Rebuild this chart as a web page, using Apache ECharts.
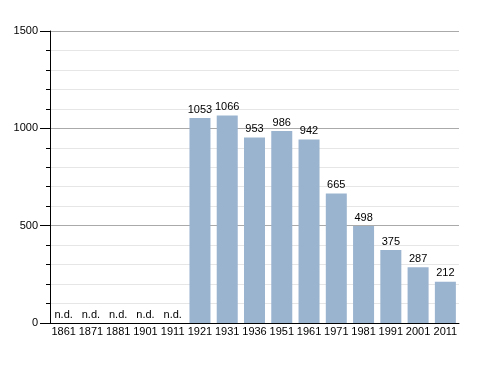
<!DOCTYPE html>
<html><head><meta charset="utf-8">
<script src="https://cdn.jsdelivr.net/npm/echarts@6/dist/echarts.min.js"></script>
<style>html,body{margin:0;padding:0;background:#fff}#c{width:488px;height:373px}</style>
</head><body><div id="c"></div>
<script>
const categories = ['1861','1871','1881','1901','1911','1921','1931','1936','1951','1961','1971','1981','1991','2001','2011'];
const population = [null,null,null,null,null,1053,1066,953,986,942,665,498,375,287,212];
const yTicks = [0,500,1000,1500];

const chart = echarts.init(document.getElementById('c'));
chart.setOption({
  animation:false,
  textStyle:{fontFamily:'Liberation Sans, Arial, sans-serif'},
  grid:{left:50,right:29,top:31,bottom:50},
  xAxis:{type:'category',data:categories,
    axisLine:{lineStyle:{color:'#000',width:1}},
    axisTick:{show:false},
    axisLabel:{color:'#000',fontSize:11,margin:3,interval:0}},
  yAxis:{type:'value',min:yTicks[0],max:yTicks[yTicks.length-1],interval:500,
    axisLine:{show:true,lineStyle:{color:'#000'}},
    axisTick:{show:true,length:10,lineStyle:{color:'#000'}},
    minorTick:{show:true,splitNumber:5,length:4,lineStyle:{color:'#000'}},
    axisLabel:{color:'#000',fontSize:11,margin:12,formatter:v=>String(v)},
    splitLine:{lineStyle:{color:'#aaa'}},
    minorSplitLine:{show:true,lineStyle:{color:'#e6e6e6'}}},
  series:[
    {type:'bar',data:population,barWidth:21,itemStyle:{color:'#9ab3cf'},
     label:{show:true,position:'top',color:'#000',fontSize:11,distance:3}},
    {type:'bar',barGap:'-100%',barWidth:21,
     data:population.map(v=>v==null?0:null),
     itemStyle:{color:'transparent'},
     label:{show:true,position:'insideBottom',formatter:'n.d.',color:'#000',fontSize:11,distance:2,offset:[0,-1]}}
  ]
});
</script></body></html>
